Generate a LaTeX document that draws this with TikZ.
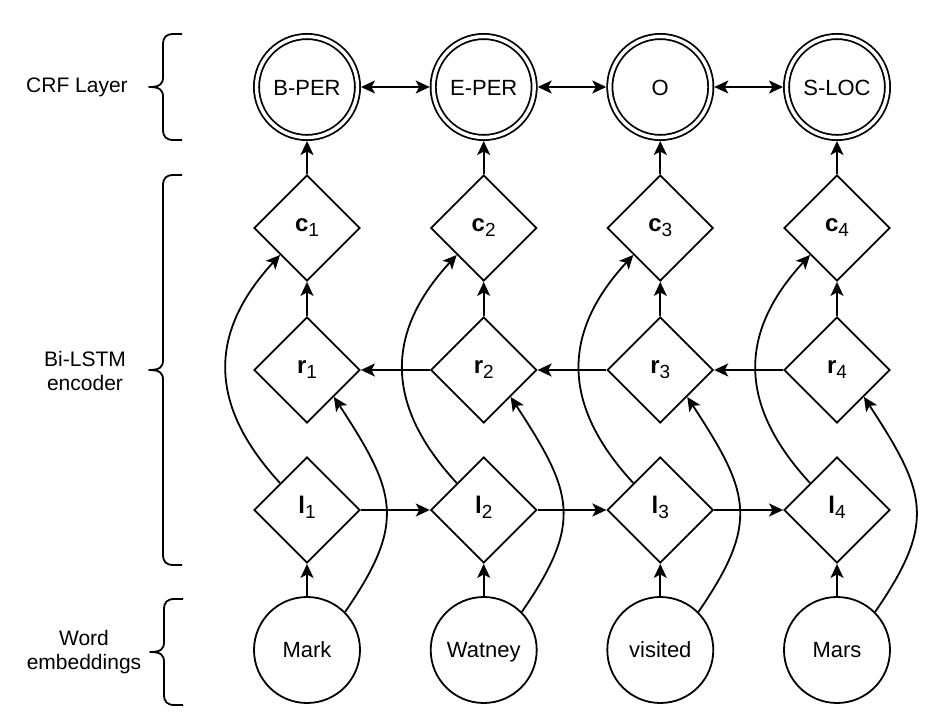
\documentclass[tikz,border=0pt]{standalone}
\usepackage{fontspec}
\setmainfont{Liberation Sans}
\usetikzlibrary{shapes.geometric,arrows.meta}
\newcommand\dsub[2]{{\fontsize{24}{26}\selectfont\textbf{#1}}\raisebox{-5pt}{\fontsize{19}{19}\selectfont #2}}
\begin{document}
\begin{tikzpicture}[x=1pt,y=-1pt, line width=1.8pt,
  every node/.style={font=\fontsize{22}{26}\selectfont},
  dia/.style={diamond, draw, minimum width=106pt, minimum height=106pt, inner sep=0pt, aspect=1, text height=7pt, text depth=0pt},
  wcirc/.style={circle, draw, minimum size=106pt, inner sep=0pt, text height=15pt, text depth=0pt},
  crf/.style={circle, draw, double, double distance=3.4pt, minimum size=101pt, inner sep=0pt, outer sep=3.5pt, text height=17pt, text depth=0pt},
  arr/.style={-{Stealth[length=14pt,width=13pt,inset=3.5pt]}},
  barr/.style={{Stealth[length=14pt,width=13pt,inset=3.5pt]}-{Stealth[length=14pt,width=13pt,inset=3.5pt]}},
  lbl/.style={font=\fontsize{21}{24}\selectfont, align=center},
  brc/.style={line join=round}
]
\useasboundingbox (0,0) rectangle (946,726);

% left labels and braces
\node[lbl] (lcrf) at (77,87) {CRF Layer};
\node[lbl] (lbi) at (85,371) {Bi-LSTM\\encoder};
\node[lbl] (lwe) at (84,652) {Word\\embeddings};

\draw[brc] (182,34) -- (174,34) .. controls (166,34) and (163,37) .. (163,45) -- (163,77) .. controls (163,84) and (160,87) .. (149,87) .. controls (160,87) and (163,90) .. (163,97) -- (163,129) .. controls (163,137) and (166,140) .. (174,140) -- (182,140);
\draw[brc] (182,175) -- (174,175) .. controls (166,175) and (163,178) .. (163,186) -- (163,360) .. controls (163,367) and (160,370) .. (149,370) .. controls (160,370) and (163,373) .. (163,380) -- (163,554) .. controls (163,562) and (166,565) .. (174,565) -- (182,565);
\draw[brc] (183,599) -- (175,599) .. controls (167,599) and (164,602) .. (164,610) -- (164,642) .. controls (164,649) and (161,652) .. (150,652) .. controls (161,652) and (164,655) .. (164,662) -- (164,694) .. controls (164,702) and (167,705) .. (175,705) -- (183,705);

% CRF layer
\node[crf] (t1) at (307,87) {B-PER};
\node[crf] (t2) at (483.7,87) {E-PER};
\node[crf] (t3) at (660.3,87) {O};
\node[crf] (t4) at (837,87) {S-LOC};

% c
\node[dia] (c1) at (307,228) {\dsub{c}{1}};
\node[dia] (c2) at (483.7,228) {\dsub{c}{2}};
\node[dia] (c3) at (660.3,228) {\dsub{c}{3}};
\node[dia] (c4) at (837,228) {\dsub{c}{4}};

% r
\node[dia] (r1) at (307,370) {\dsub{r}{1}};
\node[dia] (r2) at (483.7,370) {\dsub{r}{2}};
\node[dia] (r3) at (660.3,370) {\dsub{r}{3}};
\node[dia] (r4) at (837,370) {\dsub{r}{4}};

% l
\node[dia] (l1) at (307,510) {\dsub{l}{1}};
\node[dia] (l2) at (483.7,510) {\dsub{l}{2}};
\node[dia] (l3) at (660.3,510) {\dsub{l}{3}};
\node[dia] (l4) at (837,510) {\dsub{l}{4}};

% words
\node[wcirc] (w1) at (307,650) {Mark};
\node[wcirc] (w2) at (483.7,650) {Watney};
\node[wcirc] (w3) at (660.3,650) {visited};
\node[wcirc] (w4) at (837,650) {Mars};

% CRF links
\draw[barr] (t1) -- (t2);
\draw[barr] (t2) -- (t3);
\draw[barr] (t3) -- (t4);

% vertical and curved
\foreach \i in {1,2,3,4}{
  \draw[arr] (w\i) -- (l\i);
  \draw[arr] (r\i) -- (c\i);
  \draw[arr] (c\i) -- (t\i);
  \draw[arr] (l\i.north west) .. controls +(-72,-78) and +(-72,78) .. (c\i.south west);
  \draw[arr] (w\i.north east) .. controls +(62,-90) and +(62,95) .. (r\i.south east);
}

% horizontal
\draw[arr] (l1) -- (l2);
\draw[arr] (l2) -- (l3);
\draw[arr] (l3) -- (l4);
\draw[arr] (r4) -- (r3);
\draw[arr] (r3) -- (r2);
\draw[arr] (r2) -- (r1);
\end{tikzpicture}
\end{document}
